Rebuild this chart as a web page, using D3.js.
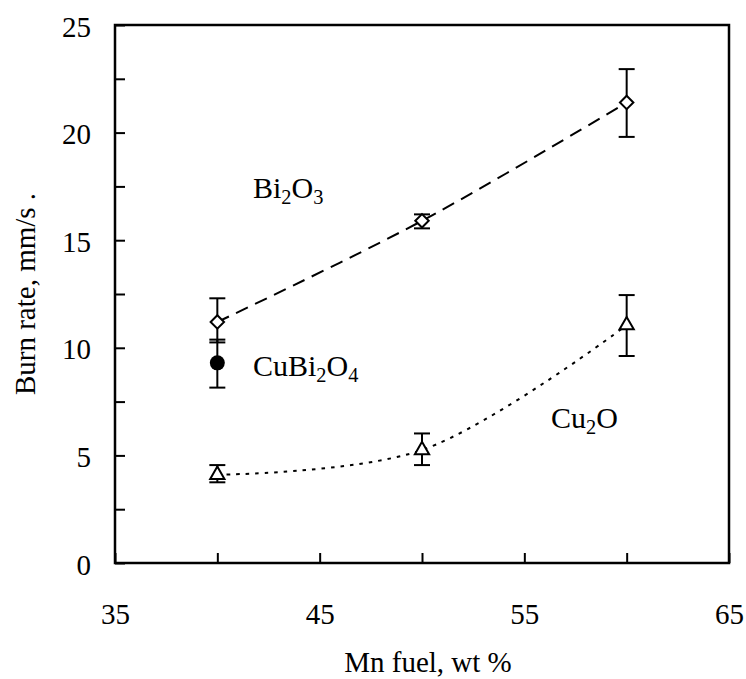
<!DOCTYPE html>
<html>
<head>
<meta charset="utf-8">
<script src="https://cdn.jsdelivr.net/npm/d3@7"></script>
<style>
  html, body { margin: 0; padding: 0; background: #fff; }
  svg { display: block; }
  text { font-family: "Liberation Serif", "Times New Roman", serif; fill: #000; }
</style>
</head>
<body>
<svg id="chart" width="746" height="679"></svg>
<script>
// ---- data ----
const fuel = [40, 50, 60];
const bi2o3 = [11.2, 15.9, 21.4];
const bi2o3Lo = [10.25, 15.55, 19.8];
const bi2o3Hi = [12.3, 16.2, 22.95];
const cu2o = [4.1, 5.25, 11.05];
const cu2oLo = [3.75, 4.55, 9.62];
const cu2oHi = [4.55, 6.02, 12.45];
const cubi2o4X = [40];
const cubi2o4 = [9.3];
const cubi2o4Lo = [8.15];
const cubi2o4Hi = [10.38];
const xTicks = [35, 40, 45, 50, 55, 60, 65];
const xTickLabels = [35, 45, 55, 65];
const yTicks = [0, 2.5, 5, 7.5, 10, 12.5, 15, 17.5, 20, 22.5, 25];
const yTickLabels = [0, 5, 10, 15, 20, 25];

const svg = d3.select("#chart");
const L = 115, R = 729, T = 25, B = 563;
const x = d3.scaleLinear().domain([35, 65]).range([L, R]);
const y = d3.scaleLinear().domain([0, 25]).range([B, T]);
const FS = 29;
const FAM = '"Liberation Serif", "Times New Roman", serif';

// axes
const xAxis = d3.axisBottom(x).tickValues(xTicks).tickSizeInner(-10).tickSizeOuter(0).tickPadding(40)
  .tickFormat(d => xTickLabels.includes(d) ? d : "");
const gx = svg.append("g").attr("transform", `translate(0,${B})`).call(xAxis);
gx.select(".domain").remove();
gx.selectAll("line").attr("stroke", "#000").attr("stroke-width", 2);
gx.selectAll("text").attr("font-size", FS).attr("font-family", FAM);

const yAxis = d3.axisLeft(y).tickValues(yTicks).tickSizeInner(-10).tickSizeOuter(0).tickPadding(24)
  .tickFormat(d => yTickLabels.includes(d) ? d : "");
const gy = svg.append("g").attr("transform", `translate(${L},0)`).call(yAxis);
gy.select(".domain").remove();
gy.selectAll("line").attr("stroke", "#000").attr("stroke-width", 2);
gy.selectAll("text").attr("font-size", FS).attr("dy", "0.38em").attr("font-family", FAM);

// frame
svg.append("rect").attr("x", L).attr("y", T).attr("width", R - L).attr("height", B - T)
  .attr("fill", "none").attr("stroke", "#000").attr("stroke-width", 2.5);

// axis titles
svg.append("text").attr("x", (L + R) / 2 + 6).attr("y", 672).attr("text-anchor", "middle")
  .attr("font-size", 29).text("Mn fuel, wt %");
svg.append("text").attr("transform", `translate(35,${(T + B) / 2}) rotate(-90)`).attr("text-anchor", "middle")
  .attr("font-size", 29).text("Burn rate, mm/s .");

// lines
const line = d3.line().x(d => x(d[0])).y(d => y(d[1])).curve(d3.curveCatmullRom.alpha(0.5));
svg.append("path").datum(fuel.map((f, i) => [f, bi2o3[i]]))
  .attr("d", line).attr("fill", "none").attr("stroke", "#000").attr("stroke-width", 2)
  .attr("stroke-dasharray", "13,8");
svg.append("path").datum(fuel.map((f, i) => [f, cu2o[i]]))
  .attr("d", line).attr("fill", "none").attr("stroke", "#000").attr("stroke-width", 2)
  .attr("stroke-dasharray", "3.5,6");

// error bars
function errBars(xs, lo, hi) {
  const g = svg.append("g").attr("stroke", "#000").attr("stroke-width", 2);
  xs.forEach((xv, i) => {
    g.append("line").attr("x1", x(xv)).attr("x2", x(xv)).attr("y1", y(lo[i])).attr("y2", y(hi[i]));
    [lo[i], hi[i]].forEach(v => g.append("line").attr("x1", x(xv) - 8).attr("x2", x(xv) + 8)
      .attr("y1", y(v)).attr("y2", y(v)));
  });
}
errBars(fuel, bi2o3Lo, bi2o3Hi);
errBars(fuel, cu2oLo, cu2oHi);
errBars(cubi2o4X, cubi2o4Lo, cubi2o4Hi);

// markers
const diamond = d3.symbol().type(d3.symbolDiamond2).size(115);
svg.append("g").selectAll("path").data(fuel.map((f, i) => [f, bi2o3[i]])).join("path")
  .attr("d", diamond).attr("transform", d => `translate(${x(d[0])},${y(d[1])})`)
  .attr("fill", "#fff").attr("stroke", "#000").attr("stroke-width", 2);
const tri = d3.symbol().type(d3.symbolTriangle2).size(145);
svg.append("g").selectAll("path").data(fuel.map((f, i) => [f, cu2o[i]])).join("path")
  .attr("d", tri).attr("transform", d => `translate(${x(d[0])},${y(d[1])})`)
  .attr("fill", "#fff").attr("stroke", "#000").attr("stroke-width", 2);
svg.append("g").selectAll("circle").data(cubi2o4X.map((f, i) => [f, cubi2o4[i]])).join("circle")
  .attr("cx", d => x(d[0])).attr("cy", d => y(d[1])).attr("r", 7.5).attr("fill", "#000");

// series labels
const LFS = 30;
function chem(xp, yp, parts) {
  const t = svg.append("text").attr("x", xp).attr("y", yp).attr("font-size", LFS);
  parts.forEach(p => {
    if (p.sub) {
      t.append("tspan").attr("font-size", LFS * 0.68).attr("dy", 6).text(p.t);
    } else {
      t.append("tspan").attr("dy", p.after ? -6 : 0).text(p.t);
    }
  });
}
chem(253, 198, [{t: "Bi"}, {t: "2", sub: true}, {t: "O", after: true}, {t: "3", sub: true}]);
chem(253, 376, [{t: "CuBi"}, {t: "2", sub: true}, {t: "O", after: true}, {t: "4", sub: true}]);
chem(551, 428, [{t: "Cu"}, {t: "2", sub: true}, {t: "O", after: true}]);
</script>
</body>
</html>
